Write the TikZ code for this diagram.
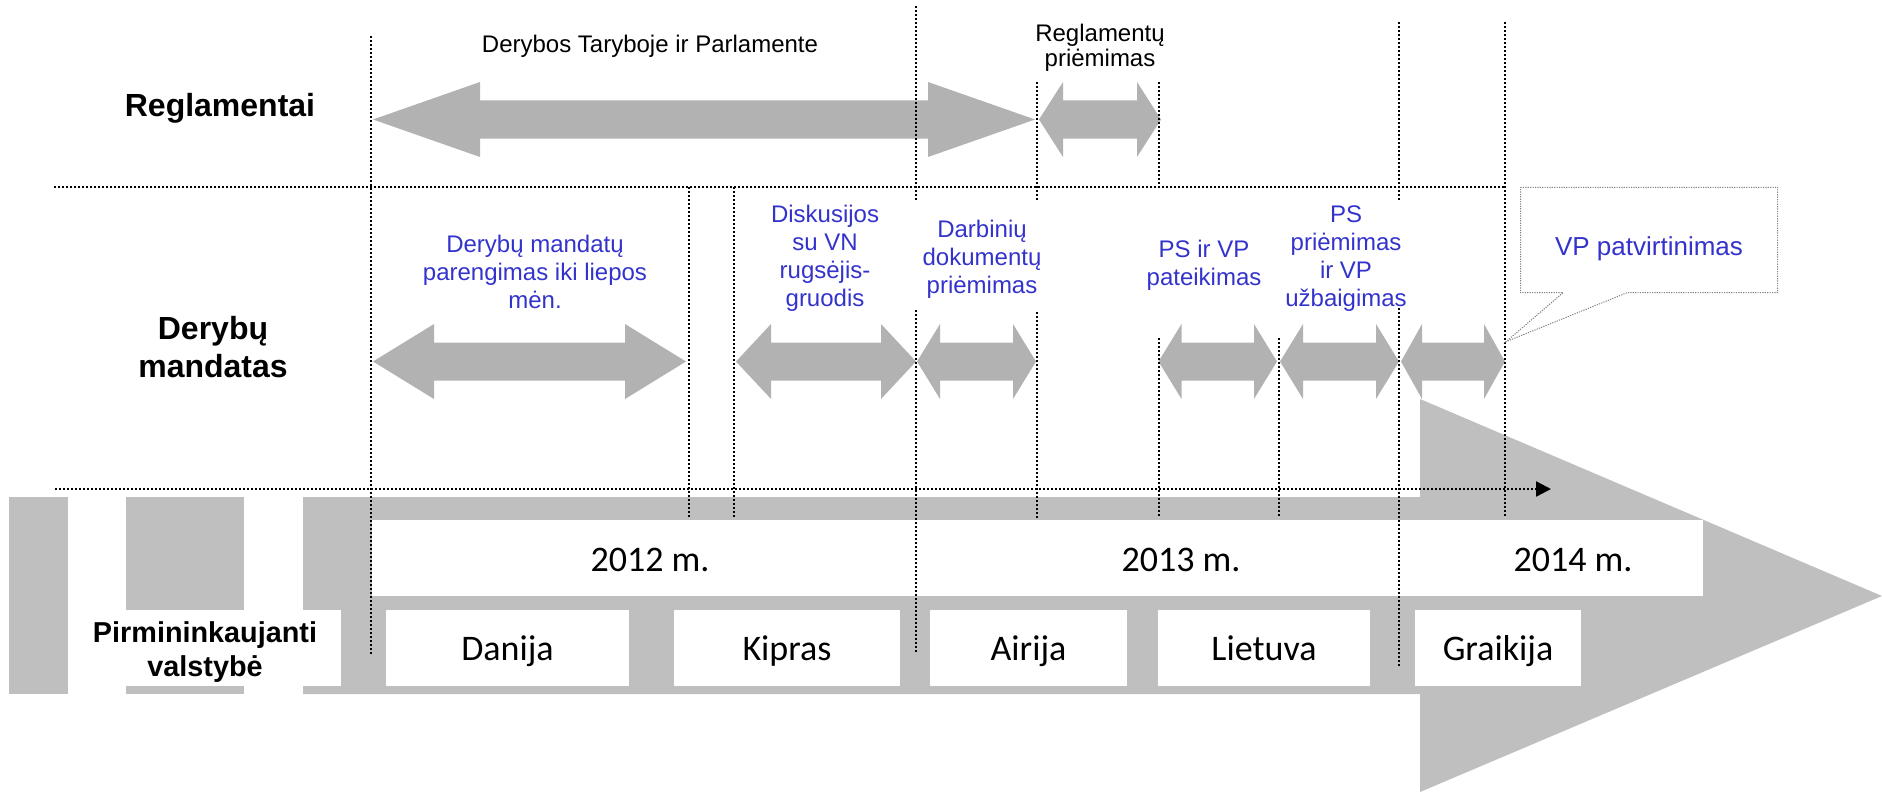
\documentclass[tikz,border=0pt]{standalone}
\usepackage{fontspec}
\setmainfont{Liberation Sans}
\newfontfamily\calfont{Carlito}
\usetikzlibrary{arrows.meta}
\definecolor{arrgray}{RGB}{178,178,178}
\definecolor{bggray}{RGB}{191,191,191}
\definecolor{lblblue}{RGB}{51,51,204}
\newcommand{\ml}[1]{\begin{tabular}[t]{@{}c@{}}#1\end{tabular}}
\newcommand{\dblarrow}[6]{%
  \fill[arrgray] (#1,#3) -- ({#1+#4},{#3-#5}) -- ({#1+#4},{#3-#6}) -- ({#2-#4},{#3-#6}) -- ({#2-#4},{#3-#5}) -- (#2,#3) -- ({#2-#4},{#3+#5}) -- ({#2-#4},{#3+#6}) -- ({#1+#4},{#3+#6}) -- ({#1+#4},{#3+#5}) -- cycle;}
\begin{document}
\begin{tikzpicture}[x=0.5pt,y=-0.5pt,
  dotline/.style={line width=1.15pt, dash pattern=on 1pt off 1pt},
  txt/.style={inner sep=0pt, anchor=base, font=\fontsize{12}{14}\selectfont},
  bluetxt/.style={txt, text=lblblue},
  headtxt/.style={inner sep=0pt, anchor=base, font=\fontsize{16}{19}\selectfont\bfseries},
  yeartxt/.style={inner sep=0pt, anchor=base, font=\calfont\fontsize{18}{21}\selectfont},
  whitebox/.style={fill=white, draw=none}]
\useasboundingbox (0,0) rectangle (1882,792);
% bottom grey arrow and bars
\fill[bggray] (9,497) rectangle (68,694);
\fill[bggray] (126,497) rectangle (244,694);
\fill[bggray] (303,497) -- (1420,497) -- (1420,399) -- (1882,596) -- (1420,792) -- (1420,694) -- (303,694) -- cycle;
\fill[whitebox] (68,610) rectangle (341,686);
\fill[whitebox] (372,520) rectangle (1703,596);
\fill[whitebox] (386,610) rectangle (629,686);
\fill[whitebox] (674,610) rectangle (900,686);
\fill[whitebox] (930,610) rectangle (1127,686);
\fill[whitebox] (1158,610) rectangle (1370,686);
\fill[whitebox] (1415,610) rectangle (1581,686);
% double arrows
\dblarrow{373}{1035}{119.5}{107}{37.5}{19}
\dblarrow{1039}{1161}{119.5}{24}{37.5}{19}
\dblarrow{373}{686}{361.5}{61}{37.5}{19}
\dblarrow{736}{916}{361.5}{35}{37.5}{19}
\dblarrow{917}{1036}{361.5}{23}{37.5}{19}
\dblarrow{1158.5}{1277}{361.5}{23}{37.5}{19}
\dblarrow{1280}{1399}{361.5}{23}{37.5}{19}
\dblarrow{1401}{1505}{361.5}{21}{37.5}{19}
% horizontal dotted lines
\coordinate (h1a) at (54,187); \coordinate (h1b) at (1505,187);
\draw[dotline] (h1a) -- (h1b);
\coordinate (tla) at (55,489); \coordinate (tlb) at (1551,489);
\draw[dotline, -{Triangle[length=7.5pt,width=7.5pt]}] (tla) -- (tlb);
% vertical dotted lines
\draw[dotline] (371,36) -- (371,655);
\draw[dotline] (689,187) -- (689,519);
\draw[dotline] (734,187) -- (734,519);
\draw[dotline] (916,6) -- (916,200) (916,310) -- (916,654);
\draw[dotline] (1037,82) -- (1037,202) (1037,312) -- (1037,518);
\draw[dotline] (1159,82) -- (1159,185) (1159,338) -- (1159,518);
\draw[dotline] (1279,338) -- (1279,518);
\draw[dotline] (1399,22) -- (1399,202) (1399,308) -- (1399,668);
\draw[dotline] (1505,22) -- (1505,518);
% callout
\draw[draw=gray, line width=0.5pt, dash pattern=on 0.6pt off 0.6pt, fill=white]
  (1520.5,187.3) -- (1777.7,187.3) -- (1777.7,292.7) -- (1627,292.7) -- (1506,341.7) -- (1563,292.7) -- (1520.5,292.7) -- cycle;
\node[txt, font=\fontsize{13}{15}\selectfont, text=lblblue] (vp) at (1649,255) {VP patvirtinimas};
% row labels
\node[headtxt] (reg) at (220,117) {Reglamentai};
\node[headtxt] (der) at (213,339) {\ml{Derybų\\mandatas}};
\node[inner sep=0pt, anchor=base, font=\fontsize{14.4}{17}\selectfont\bfseries] (pirm) at (205,642) {\ml{Pirmininkaujanti\\valstybė}};
% black top labels
\node[txt] (dtp) at (650,53) {Derybos Taryboje ir Parlamente};
\node[txt, font=\fontsize{12}{12.4}\selectfont] (rp) at (1100,42) {\ml{Reglamentų\\priėmimas}};
% blue labels
\node[bluetxt] (b1) at (535,252) {\ml{Derybų mandatų\\parengimas iki liepos\\mėn.}};
\node[bluetxt] (b2) at (825,222) {\ml{Diskusijos\\su VN\\rugsėjis-\\gruodis}};
\node[bluetxt] (b3) at (982,237) {\ml{Darbinių\\dokumentų\\priėmimas}};
\node[bluetxt] (b4) at (1204,257) {\ml{PS ir VP\\pateikimas}};
\node[bluetxt] (b5) at (1346,222) {\ml{PS\\priėmimas\\ir VP\\užbaigimas}};
% years
\node[yeartxt] (y12) at (650,571) {2012 m.};
\node[yeartxt] (y13) at (1181,571) {2013 m.};
\node[yeartxt] (y14) at (1573,571) {2014 m.};
% countries
\node[yeartxt] (c1) at (507.5,660) {Danija};
\node[yeartxt] (c2) at (787,660) {Kipras};
\node[yeartxt] (c3) at (1028.5,660) {Airija};
\node[yeartxt] (c4) at (1264,660) {Lietuva};
\node[yeartxt] (c5) at (1498,660) {Graikija};
\end{tikzpicture}
\end{document}
